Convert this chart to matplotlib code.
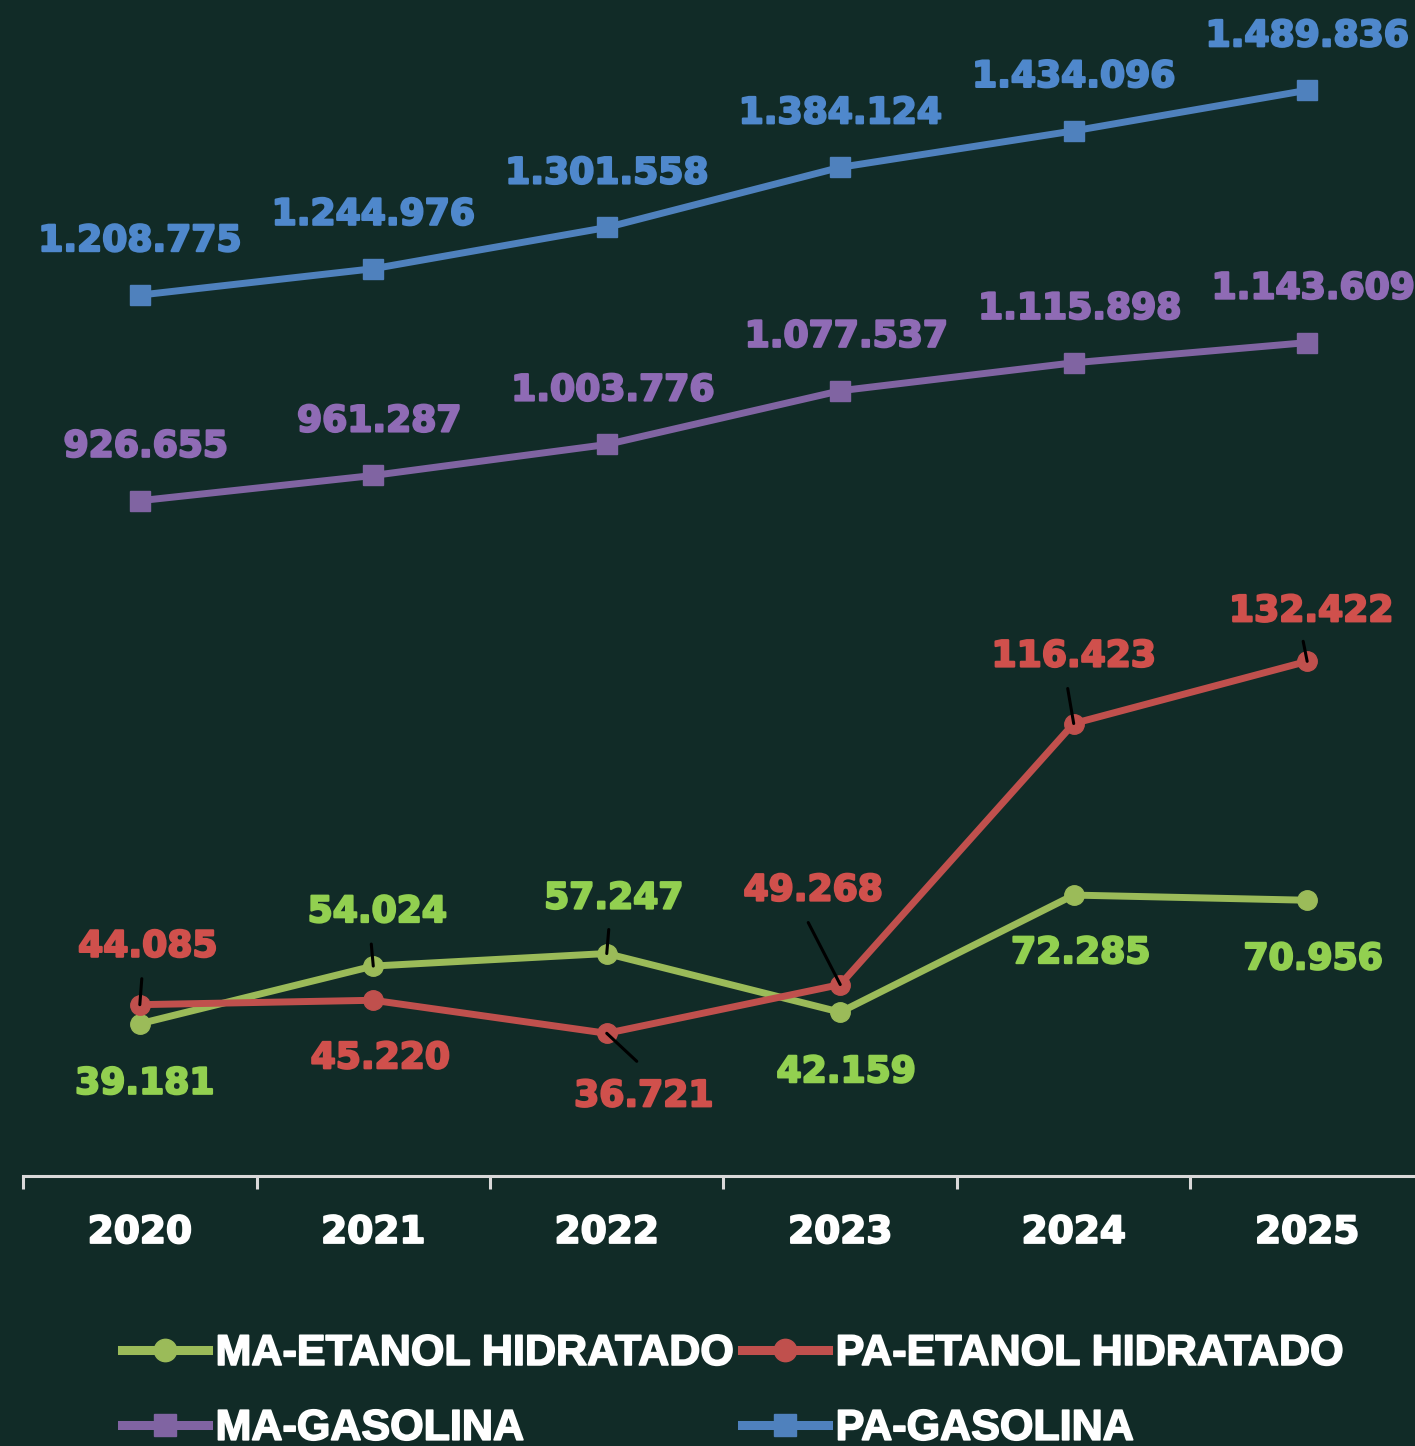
import matplotlib
matplotlib.use('Agg')
from matplotlib import pyplot as plt
import matplotlib.patheffects as pe

# Data
years = ['2020', '2021', '2022', '2023', '2024', '2025']
ma_etanol = [39181, 54024, 57247, 42159, 72285, 70956]
pa_etanol = [44085, 45220, 36721, 49268, 116423, 132422]
ma_gasolina = [926655, 961287, 1003776, 1077537, 1115898, 1143609]
pa_gasolina = [1208775, 1244976, 1301558, 1384124, 1434096, 1489836]

# Colors
bg = '#112b27'
c_green, t_green = '#9bbb59', '#92d050'
c_red, t_red = '#c0504d', '#d0504c'
c_purple, t_purple = '#8064a2', '#8f6bb5'
c_blue, t_blue = '#4f81bd', '#4f88cc'


def fmt(v):
    return f'{v:,}'.replace(',', '.')


def heavy(c, w=1.6):
    return [pe.withStroke(linewidth=w, foreground=c)]


fig = plt.figure(figsize=(14.15, 14.46), dpi=100, facecolor=bg)
ax = fig.add_axes([0.0163, 0.1867, 0.990, 0.8064])
ax2 = ax.twinx()
for a in (ax, ax2):
    a.set_facecolor('none')
    for s in a.spines.values():
        s.set_visible(False)
    a.set_yticks([])
ax.set_facecolor(bg)
ax.set_zorder(1)
ax2.set_zorder(2)

x = list(range(len(years)))
ax.set_xlim(-0.5, 5.5)
ax.set_ylim(0, 1600000)
ax2.set_ylim(0, 300000)

lw = 5
l_pg, = ax.plot(x, pa_gasolina, color=c_blue, lw=lw, marker='s', ms=14, label='PA-GASOLINA')
l_mg, = ax.plot(x, ma_gasolina, color=c_purple, lw=lw, marker='s', ms=14, label='MA-GASOLINA')
l_me, = ax2.plot(x, ma_etanol, color=c_green, lw=lw, marker='o', ms=14, label='MA-ETANOL HIDRATADO')
l_pe, = ax2.plot(x, pa_etanol, color=c_red, lw=lw, marker='o', ms=14, label='PA-ETANOL HIDRATADO')

lab_font = dict(fontsize=26, fontweight='bold', ha='center', va='center')

# label offsets in pixels (dx, dy)
for i, v in enumerate(pa_gasolina):
    ax.annotate(fmt(v), (i, v), xytext=(0, 54), textcoords='offset pixels', color=t_blue,
                path_effects=heavy(t_blue), **lab_font)
for i, v in enumerate(ma_gasolina):
    ax.annotate(fmt(v), (i, v), xytext=(6, 54), textcoords='offset pixels', color=t_purple,
                path_effects=heavy(t_purple), **lab_font)

green_off = [(5, -60), (4, 54), (7, 55), (6, -60), (7, -58), (6, -59)]
red_off = [(8, 58), (7, -58), (37, -63), (-27, 94), (0, 67), (4, 50)]

for i, v in enumerate(ma_etanol):
    ax2.annotate(fmt(v), (i, v), xytext=green_off[i], textcoords='offset pixels', color=t_green,
                 path_effects=heavy(t_green), **lab_font)
for i, v in enumerate(pa_etanol):
    ax2.annotate(fmt(v), (i, v), xytext=red_off[i], textcoords='offset pixels', color=t_red,
                 path_effects=heavy(t_red), **lab_font)

# leader lines
leads = [
    (0, pa_etanol[0], (2, 26)),
    (1, ma_etanol[1], (-2, 22)),
    (2, ma_etanol[2], (2, 24)),
    (2, pa_etanol[2], (30, -28)),
    (3, pa_etanol[3], (-32, 62)),
    (4, pa_etanol[4], (-6, 35)),
    (5, pa_etanol[5], (-4, 20)),
]
for i, v, (dx, dy) in leads:
    ax2.annotate('', (i, v), xytext=(dx, dy), textcoords='offset pixels',
                 arrowprops=dict(arrowstyle='-', color='black', lw=2.2, shrinkA=0, shrinkB=0))

# x axis
ax.spines['bottom'].set_visible(True)
ax.spines['bottom'].set_color('#d9d9d9')
ax.spines['bottom'].set_linewidth(2.2)
ax.set_xticks(x)
ax.set_xticklabels(years, fontsize=27, fontweight='bold', color='white')
for t in ax.get_xticklabels():
    t.set_path_effects(heavy('white', 1.4))
ax.tick_params(axis='x', which='major', length=0, pad=28)
ax.set_xticks([-0.5, 0.5, 1.5, 2.5, 3.5, 4.5, 5.5], minor=True)
ax.tick_params(axis='x', which='minor', length=9, width=2.2, color='#d9d9d9', direction='out')

# legend
leg = fig.legend(handles=[l_me, l_mg, l_pe, l_pg], ncol=2, loc='upper left',
                 bbox_to_anchor=(0.086, 0.0775), frameon=False,
                 prop={'family': 'Liberation Sans', 'weight': 'bold', 'size': 31},
                 handlelength=2.0, handletextpad=0.18, columnspacing=0.22, labelspacing=0.81,
                 borderaxespad=0, borderpad=0, markerscale=1.15)
for t in leg.get_texts():
    t.set_color('white')
    t.set_path_effects(heavy('white', 1.2))
for h in leg.legend_handles:
    h.set_linewidth(6.5)

plt.savefig('out.png', dpi=100, facecolor=bg)
